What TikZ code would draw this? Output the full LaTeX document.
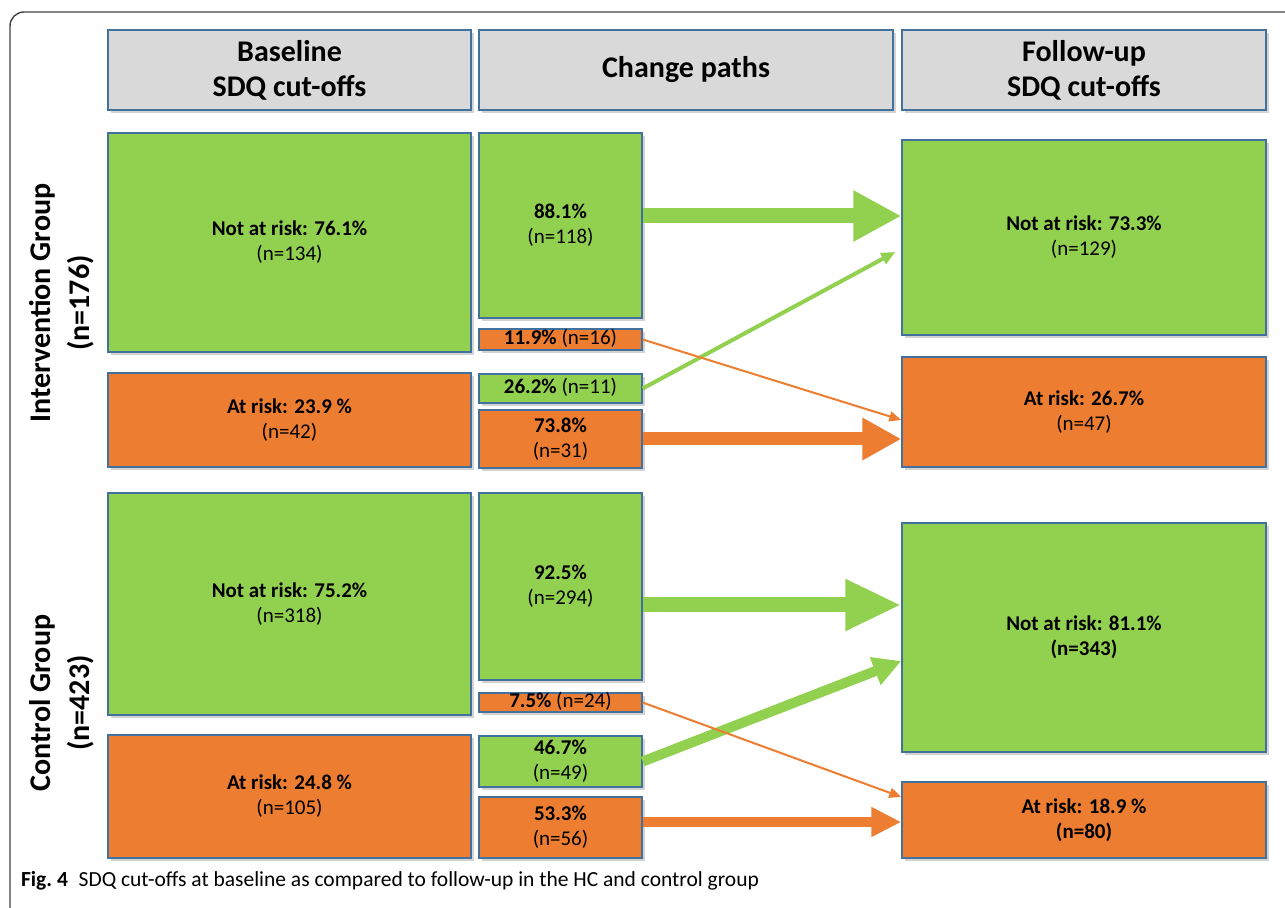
\documentclass[tikz,border=0pt]{standalone}
\usepackage{fontspec}
\setmainfont{Carlito}
\usetikzlibrary{arrows.meta,shadows}
\definecolor{grn}{HTML}{92D050}
\definecolor{org}{HTML}{ED7D31}
\definecolor{hdr}{HTML}{D9D9D9}
\definecolor{edge}{HTML}{41719C}
\definecolor{frm}{HTML}{404040}

\begin{document}
\begin{tikzpicture}[x=0.5pt,y=-0.5pt,
  box/.style={draw=edge, line width=0.7pt, align=center, inner sep=0pt,
    drop shadow={shadow xshift=1.5pt, shadow yshift=-1.5pt, opacity=0.35}},
  sz/.style 2 args={minimum width=#1*0.5pt, minimum height=#2*0.5pt},
  hd/.style={box, fill=hdr, font=\fontsize{15}{17.5}\selectfont\bfseries},
  ok/.style={box, fill=grn, font=\fontsize{10.5}{12.5}\selectfont},
  risk/.style={box, fill=org, font=\fontsize{10.5}{12.5}\selectfont},
  tight/.style={text height=7pt, text depth=2pt},
  grp/.style={rotate=90, align=center, font=\fontsize{15}{19.5}\selectfont\bfseries},
  gflow/.style={draw=grn, line width=#1},
  oflow/.style={draw=org, line width=#1}]
  \useasboundingbox (0,0) rectangle (1285,908);
  \draw[frm, line width=0.7pt, rounded corners=7pt] (10,908) |- (1285,12);
  % Column heads.
  \node[hd, sz={363}{80}] (hb) at (289.5,70) {Baseline\\SDQ cut-offs};
  \node[hd, sz={414}{80}] (hc) at (686,70)   {Change paths};
  \node[hd, sz={364}{80}] (hf) at (1084,70)  {Follow-up\\SDQ cut-offs};
  % Intervention group.
  \node[grp] (ig) at (62,303) {Intervention Group\\(n=176)};
  \node[ok, sz={363}{219}]  (ibnr) at (289.5,242.5) {\textbf{Not at risk: 76.1\%}\\(n=134)};
  \node[risk, sz={363}{94}] (ibar) at (289.5,420)   {\textbf{At risk: 23.9 \%}\\(n=42)};
  \node[ok, sz={163}{185}]  (ic1) at (560.5,225.5) {\textbf{88.1\%}\\(n=118)};
  \node[risk, tight, sz={163}{21}] (ic2) at (560.5,339.5) {\textbf{11.9\%} (n=16)};
  \node[ok, tight, sz={163}{29}]   (ic3) at (560.5,388.5) {\textbf{26.2\%} (n=11)};
  \node[risk, sz={163}{58}] (ic4) at (560.5,439)   {\textbf{73.8\%}\\(n=31)};
  \node[ok, sz={364}{195}]  (ifnr) at (1084,237.5) {\textbf{Not at risk: 73.3\%}\\(n=129)};
  \node[risk, sz={364}{110}] (ifar) at (1084,412)  {\textbf{At risk: 26.7\%}\\(n=47)};
  % Control group.
  \node[grp] (cg) at (62,703) {Control Group\\(n=423)};
  \node[ok, sz={363}{222}]   (cbnr) at (289.5,604)   {\textbf{Not at risk: 75.2\%}\\(n=318)};
  \node[risk, sz={363}{123}] (cbar) at (289.5,796.5) {\textbf{At risk: 24.8 \%}\\(n=105)};
  \node[ok, sz={163}{187}]  (cc1) at (560.5,586.5) {\textbf{92.5\%}\\(n=294)};
  \node[risk, tight, sz={163}{19}] (cc2) at (560.5,702.5) {\textbf{7.5\%} (n=24)};
  \node[ok, sz={163}{51}]   (cc3) at (560.5,761.5) {\textbf{46.7\%}\\(n=49)};
  \node[risk, sz={163}{61}] (cc4) at (560.5,827.5) {\textbf{53.3\%}\\(n=56)};
  \node[ok, sz={364}{229}]  (cfnr) at (1084,637.5) {\textbf{Not at risk: 81.1\%}\\\textbf{(n=343)}};
  \node[risk, sz={364}{76}] (cfar) at (1084,820)   {\textbf{At risk: 18.9 \%}\\\textbf{(n=80)}};
  % Intervention flows.
  \coordinate (g1) at ([yshift=4.75pt]ic1.east);
  \draw[gflow=7.5pt, -{Triangle[length=24pt,width=24pt]}] (g1) -- (g1 -| ifnr.west);
  \draw[gflow=2pt, -{Triangle[length=7pt,width=6pt]}] (ic3.east) -- ([xshift=-3pt,yshift=-7.25pt]ifnr.west);
  \draw[oflow=1pt, -{Triangle[length=6pt,width=5pt]}] (ic2.east) -- ([yshift=-4pt]ifar.west);
  \draw[oflow=6.5pt, -{Triangle[length=19.5pt,width=20pt]}] (ic4.east) -- (ic4.east -| ifar.west);
  % Control flows.
  \coordinate (g2) at ([yshift=-9.25pt]cc1.east);
  \draw[gflow=7.5pt, -{Triangle[length=28pt,width=24pt]}] (g2) -- (g2 -| cfnr.west);
  \draw[gflow=5pt, -{Triangle[length=14pt,width=14pt]}] (cc3.east) -- ([yshift=-11.75pt]cfnr.west);
  \draw[oflow=1pt, -{Triangle[length=6pt,width=5pt]}] (cc2.east) -- ([yshift=11.5pt]cfar.west);
  \coordinate (o2) at ([yshift=2.75pt]cc4.east);
  \draw[oflow=5pt, -{Triangle[length=15pt,width=14pt]}] (o2) -- (o2 -| cfar.west);
  % Caption.
  \node[anchor=west, font=\fontsize{10.75}{12.5}\selectfont] (cap) at (14,881)
    {\textbf{Fig.~4}\hspace{0.5em}SDQ cut-offs at baseline as compared to follow-up in the HC and control group};
\end{tikzpicture}
\end{document}
